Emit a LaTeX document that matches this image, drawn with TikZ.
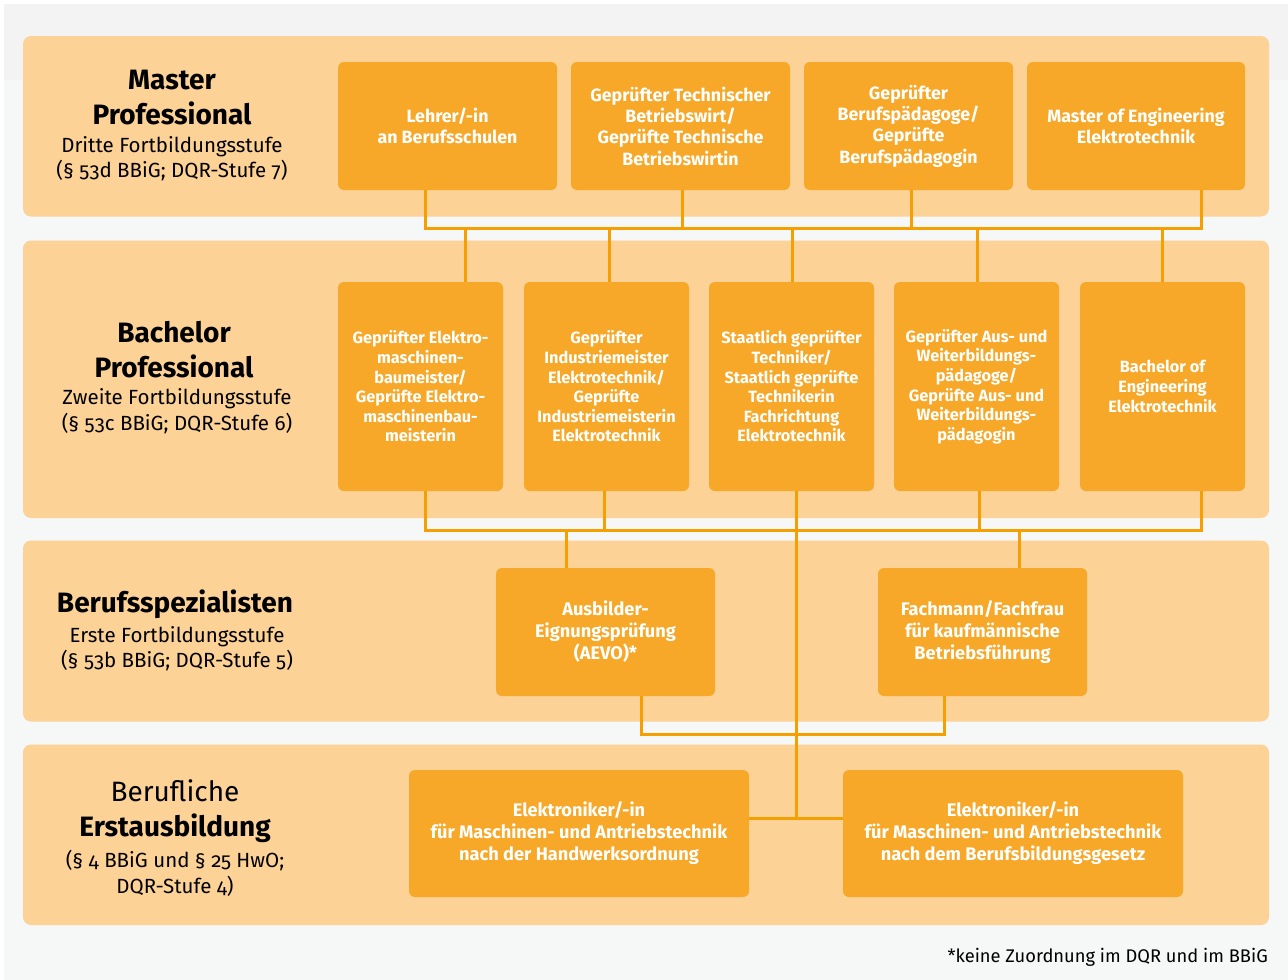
\documentclass[tikz,border=0pt]{standalone}
\usepackage{fontspec}
\setmainfont{Fira Sans}[Numbers=OldStyle]
\definecolor{bgc}{HTML}{F6F7F7}
\definecolor{bgtop}{HTML}{F3F3F3}
\definecolor{bandc}{HTML}{FCD296}
\definecolor{boxc}{HTML}{F7A828}
\definecolor{linec}{HTML}{F5A000}
\tikzset{
  band/.style={fill=bandc, rounded corners=8pt, draw=none},
  obox/.style={fill=boxc, rounded corners=6pt, draw=none, text=white, align=center, inner sep=0pt},
  fA/.style={font=\bfseries\fontsize{17.8}{21.3}\selectfont},
  fB/.style={font=\bfseries\fontsize{16.3}{19.6}\selectfont},
  fC/.style={font=\bfseries\fontsize{18.2}{22}\selectfont},
  ttl/.style={align=center, inner sep=0pt, font=\bfseries\fontsize{28}{35}\selectfont},
  sub/.style={align=center, inner sep=0pt, font=\fontsize{20.5}{25.5}\selectfont},
  conn/.style={draw=linec, line width=3pt, line join=miter}
}
\begin{document}
\begin{tikzpicture}[x=1pt,y=-1pt]
\useasboundingbox (0,0) rectangle (1288,980);
\fill[white] (0,0) rectangle (1288,980);
\fill[bgc] (4,4) rectangle (1288,980);
\fill[bgtop] (4,4) rectangle (1288,80);
% bands
\path[band] (23,36) rectangle (1269,216.5);
\path[band] (23,240.5) rectangle (1269,518);
\path[band] (23,540.5) rectangle (1269,721.5);
\path[band] (23,744.5) rectangle (1269,925);
% left labels
\node[ttl] (t1) at (172,97.5) {Master\\Professional};
\node[sub] (s1) at (172,158.5) {Dritte Fortbildungsstufe\\(§ 53d BBiG; DQR-Stufe 7)};
\node[ttl] (t2) at (174,349.5) {Bachelor\\Professional};
\node[sub] (s2) at (177,411) {Zweite Fortbildungsstufe\\(§ 53c BBiG; DQR-Stufe 6)};
\node[ttl] (t3) at (175,604) {Berufsspezialisten};
\node[sub] (s3) at (177,648.5) {Erste Fortbildungsstufe\\(§ 53b BBiG; DQR-Stufe 5)};
\node[ttl] (t4) at (175,811) {\mdseries Berufliche\\Erstausbildung};
\node[sub] (s4) at (175,873.5) {(§ 4 BBiG und § 25 HwO;\\DQR-Stufe 4)};
% row 1
\node[obox,fA,minimum width=219pt,minimum height=128pt] (B1) at (447.5,126) {Lehrer/-in\\an Berufsschulen};
\node[obox,fA,minimum width=219pt,minimum height=128pt] (B2) at (680.5,126) {Geprüfter Technischer\\Betriebswirt/\\Geprüfte Technische\\Betriebswirtin};
\node[obox,fA,minimum width=209pt,minimum height=128pt] (B3) at (908.5,126) {Geprüfter\\Berufspädagoge/\\Geprüfte\\Berufspädagogin};
\node[obox,fA,minimum width=218pt,minimum height=128pt] (B4) at (1136,126) {Master of Engineering\\Elektrotechnik};
% row 2
\node[obox,fB,minimum width=165pt,minimum height=209pt] (C1) at (420.5,386.5) {Geprüfter Elektro-\\maschinen-\\baumeister/\\Geprüfte Elektro-\\maschinenbau-\\meisterin};
\node[obox,fB,minimum width=165pt,minimum height=209pt] (C2) at (606.5,386.5) {Geprüfter\\Industriemeister\\Elektrotechnik/\\Geprüfte\\Industriemeisterin\\Elektrotechnik};
\node[obox,fB,minimum width=165pt,minimum height=209pt] (C3) at (791.5,386.5) {Staatlich geprüfter\\Techniker/\\Staatlich geprüfte\\Technikerin\\Fachrichtung\\Elektrotechnik};
\node[obox,fB,minimum width=165pt,minimum height=209pt] (C4) at (976.5,386.5) {Geprüfter Aus- und\\Weiterbildungs-\\pädagoge/\\Geprüfte Aus- und\\Weiterbildungs-\\pädagogin};
\node[obox,fB,minimum width=165pt,minimum height=209pt] (C5) at (1162.5,386.5) {Bachelor of\\Engineering\\Elektrotechnik};
% row 3
\node[obox,fC,minimum width=219pt,minimum height=128pt] (D1) at (605.5,632) {Ausbilder-\\Eignungsprüfung\\(AEVO)*};
\node[obox,fC,minimum width=209pt,minimum height=128pt] (D2) at (982.5,632) {Fachmann/Fachfrau\\für kaufmännische\\Betriebsführung};
% row 4
\node[obox,fC,minimum width=340pt,minimum height=127pt] (E1) at (579,833.5) {Elektroniker/-in\\für Maschinen- und Antriebstechnik\\nach der Handwerksordnung};
\node[obox,fC,minimum width=340pt,minimum height=127pt] (E2) at (1013,833.5) {Elektroniker/-in\\für Maschinen- und Antriebstechnik\\nach dem Berufsbildungsgesetz};
% footnote
\node[anchor=east, inner sep=0pt, font=\fontsize{18.3}{21}\selectfont] (fn) at (1268,957) {*keine Zuordnung im DQR und im BBiG};
% bus coordinates
\coordinate (a1) at (425,228);
\coordinate (a2) at (1201,228);
\coordinate (b1) at (425,530);
\coordinate (b2) at (1201,530);
\coordinate (c1) at (641,734);
\coordinate (c2) at (944,734);
\coordinate (jm) at (796,818);
% connectors row1 -> bus
\draw[conn] (B1.south -| a1) -- (a1) -- (a2) -- (B4.south -| a2);
\draw[conn] (B2.south -| 682.5,0) -- (682.5,228);
\draw[conn] (B3.south -| 911,0) -- (911,228);
% bus -> row2
\draw[conn] (465,228) -- (C1.north -| 465,0);
\draw[conn] (609,228) -- (C2.north -| 609,0);
\draw[conn] (792.5,228) -- (C3.north -| 792.5,0);
\draw[conn] (977,228) -- (C4.north -| 977,0);
\draw[conn] (1162,228) -- (C5.north -| 1162,0);
% row2 -> bus
\draw[conn] (C1.south -| b1) -- (b1) -- (b2) -- (C5.south -| b2);
\draw[conn] (C2.south -| 604,0) -- (604,530);
\draw[conn] (C4.south -| 979,0) -- (979,530);
% bus -> row3
\draw[conn] (566.5,530) -- (D1.north -| 566.5,0);
\draw[conn] (1019,530) -- (D2.north -| 1019,0);
% row3 -> bus
\draw[conn] (D1.south -| c1) -- (c1) -- (c2) -- (D2.south -| c2);
% central line
\draw[conn] (C3.south -| jm) -- (jm);
\draw[conn] (E1.east |- jm) -- (E2.west |- jm);
\end{tikzpicture}
\end{document}
